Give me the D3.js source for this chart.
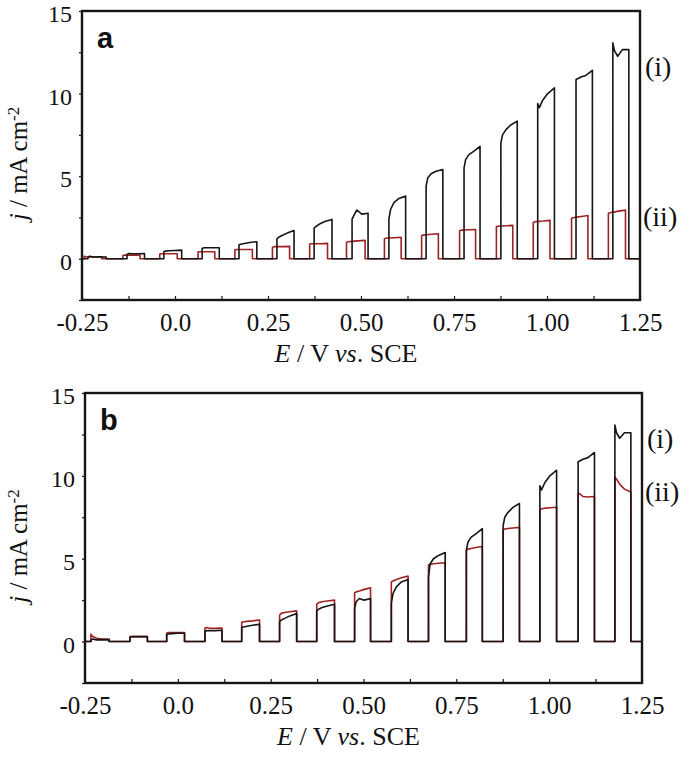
<!DOCTYPE html>
<html><head><meta charset="utf-8">
<script src="https://cdn.jsdelivr.net/npm/d3@7"></script>
<style>
html,body{margin:0;padding:0;background:#fff;}
svg{display:block;}
text{font-family:"Liberation Serif","Times New Roman",serif;fill:#111;}
</style></head>
<body>
<svg id="chart" width="685" height="757"></svg>
<script>
// ---------- data ----------
// potential (V vs SCE) where the light is switched on / off for each chopped pulse
const lightOnBlack  = [-0.234,-0.129,-0.030,0.073,0.172,0.274,0.374,0.476,0.575,0.675,0.777,0.876,0.975,1.078,1.177];
const lightOffBlack = [-0.185,-0.082,0.018,0.119,0.220,0.320,0.422,0.519,0.620,0.720,0.820,0.920,1.020,1.122,1.220];
const lightOnRedA   = [-0.244,-0.140,-0.041,0.062,0.161,0.262,0.362,0.461,0.563,0.663,0.765,0.864,0.963,1.066,1.165];
const lightOffRedA  = [-0.197,-0.094,0.006,0.107,0.208,0.308,0.410,0.511,0.608,0.708,0.808,0.908,1.008,1.110,1.211];
// sampling positions inside each light-on period (fraction of the on-time)
const onFrac = [0, 0.1, 0.3, 0.6, 1];
// (i) photocurrent j (mA cm-2) inside each pulse, panel a
const curveIA = [
  [0.10,0.15,0.10,0.12,0.10],[0.25,0.32,0.30,0.30,0.32],[0.42,0.46,0.48,0.50,0.52],
  [0.62,0.66,0.66,0.66,0.66],[0.85,0.88,0.92,0.98,1.03],[1.20,1.30,1.40,1.55,1.71],
  [1.85,1.95,2.10,2.25,2.38],[2.40,2.60,2.95,2.70,2.75],[2.40,2.98,3.40,3.65,3.79],
  [4.40,4.90,5.15,5.30,5.40],[5.50,6.00,6.30,6.50,6.81],[7.00,7.50,7.80,8.10,8.33],
  [9.40,9.15,9.60,10.00,10.34],[10.85,10.90,11.00,11.10,11.41],[13.07,12.60,12.26,12.66,12.66]
];
// (ii) panel a
const curveIIA = [
  [0.15,0.12,0.10,0.10,0.10],[0.20,0.22,0.22,0.22,0.22],[0.28,0.30,0.30,0.30,0.30],
  [0.40,0.42,0.42,0.42,0.42],[0.54,0.56,0.56,0.56,0.56],[0.70,0.73,0.73,0.73,0.75],
  [0.88,0.91,0.91,0.91,0.93],[1.00,1.03,1.05,1.08,1.11],[1.20,1.25,1.25,1.27,1.30],
  [1.40,1.43,1.45,1.48,1.51],[1.70,1.73,1.74,1.75,1.77],[1.95,1.97,1.98,2.00,2.02],
  [2.20,2.24,2.26,2.28,2.32],[2.45,2.48,2.52,2.56,2.62],[2.75,2.78,2.82,2.88,2.94]
];
// (i) panel b
const curveIB = [
  [0.10,0.15,0.10,0.12,0.10],[0.25,0.30,0.30,0.30,0.30],[0.42,0.46,0.48,0.50,0.50],
  [0.62,0.66,0.66,0.66,0.68],[0.85,0.88,0.92,0.98,1.05],[1.20,1.30,1.40,1.55,1.70],
  [1.85,1.95,2.05,2.15,2.25],[2.00,2.40,2.60,2.50,2.60],[2.33,2.90,3.30,3.60,3.75],
  [3.90,4.70,5.00,5.20,5.37],[5.50,6.00,6.30,6.50,6.81],[7.00,7.50,7.80,8.10,8.33],
  [9.40,9.15,9.60,10.00,10.34],[10.85,10.90,11.00,11.10,11.41],[13.07,12.60,12.27,12.60,12.60]
];
// (ii) panel b
const curveIIB = [
  [0.45,0.30,0.20,0.15,0.15],[0.30,0.30,0.30,0.30,0.30],[0.50,0.55,0.55,0.55,0.55],
  [0.80,0.85,0.80,0.80,0.82],[1.15,1.20,1.22,1.25,1.30],[1.60,1.70,1.75,1.80,1.85],
  [2.25,2.35,2.40,2.45,2.50],[2.95,3.00,3.05,3.15,3.24],[3.60,3.65,3.75,3.85,3.95],
  [4.62,4.66,4.70,4.73,4.76],[5.50,5.58,5.62,5.68,5.74],[6.75,6.79,6.82,6.85,6.89],
  [7.95,8.01,8.05,8.08,8.11],[8.95,8.92,8.75,8.72,8.75],[9.93,9.80,9.50,9.20,9.02]
];
const xTicks = [-0.25,-0.125,0,0.125,0.25,0.375,0.5,0.625,0.75,0.875,1.0,1.125,1.25];
const xTickLabels = ["-0.25","0.0","0.25","0.50","0.75","1.00","1.25"];
const yTicks = [-2.5,0,2.5,5,7.5,10,12.5,15];
const yTickLabels = ["0","5","10","15"];
const xDomain = [-0.25, 1.25];
const yDomain = [-2.5, 15];

// ---------- drawing ----------
const svg = d3.select("#chart");
const BLACK = "#151515", RED = "#9e2222";

function trace(on, off, vals){
  const pts = [[xDomain[0], 0]];
  on.forEach((e0, k) => {
    const e1 = off[k];
    pts.push([e0, 0]);
    onFrac.forEach((f, i) => pts.push([e0 + f * (e1 - e0), vals[k][i]]));
    pts.push([e1, 0]);
  });
  pts.push([xDomain[1], 0]);
  return pts;
}

function panel(cfg){
  const x = d3.scaleLinear().domain(xDomain).range([cfg.left, cfg.right]);
  const y = d3.scaleLinear().domain(yDomain).range([cfg.bottom, cfg.top]);
  const g = svg.append("g");
  const line = d3.line().x(d => x(d[0])).y(d => y(d[1]));

  // traces
  g.append("path").datum(trace(cfg.redOn, cfg.redOff, cfg.red))
    .attr("d", line).attr("fill","none").attr("stroke",RED).attr("stroke-width",1.6)
    .attr("stroke-linejoin","round");
  g.append("path").datum(trace(lightOnBlack, lightOffBlack, cfg.black))
    .attr("d", line).attr("fill","none").attr("stroke",BLACK).attr("stroke-width",1.6)
    .attr("stroke-linejoin","round");

  // x axis
  const labelFor = v => { const i = xTicks.indexOf(v); return i % 2 === 0 ? xTickLabels[i/2] : ""; };
  const xa = g.append("g").attr("transform",`translate(0,${cfg.bottom})`)
    .call(d3.axisBottom(x).tickValues(xTicks).tickSize(-4).tickSizeOuter(0).tickFormat(labelFor));
  xa.select(".domain").remove();
  xa.selectAll(".tick line").attr("stroke",BLACK).attr("stroke-width",1.2);
  xa.selectAll(".tick text").attr("y",31).attr("dy",0)
    .style("font-family",'"Liberation Serif",serif').style("font-size","25px").attr("fill","#222");

  // y axis
  const yLab = v => (v % 5 === 0 && v >= 0) ? yTickLabels[v/5] : "";
  const ya = g.append("g").attr("transform",`translate(${cfg.left},0)`)
    .call(d3.axisLeft(y).tickValues(yTicks).tickSize(3).tickSizeOuter(0).tickFormat(yLab));
  ya.select(".domain").remove();
  ya.selectAll(".tick line").attr("stroke",BLACK).attr("stroke-width",1.2);
  ya.selectAll(".tick text").attr("x",-10).attr("dy","0.45em")
    .style("font-family",'"Liberation Serif",serif').style("font-size","24px").attr("fill","#222");

  // frame
  g.append("rect").attr("x",cfg.left).attr("y",cfg.top)
    .attr("width",cfg.right-cfg.left).attr("height",cfg.bottom-cfg.top)
    .attr("fill","none").attr("stroke",BLACK).attr("stroke-width",2.4);

  // panel letter
  g.append("text").attr("x",cfg.left+15).attr("y",cfg.top+37)
    .style("font-family",'"Liberation Sans",Arial,sans-serif').style("font-weight","bold")
    .style("font-size","29px").text(cfg.letter);

  // series labels
  g.append("text").attr("x",cfg.right+5).attr("y",cfg.labI).style("font-size","28px").text("(i)");
  g.append("text").attr("x",cfg.right+3).attr("y",cfg.labII).style("font-size","28px").text("(ii)");

  // x title
  const xt = g.append("text").attr("x",(cfg.left+cfg.right)/2-15).attr("y",cfg.bottom+62)
    .attr("text-anchor","middle").style("font-size","26px");
  xt.append("tspan").style("font-style","italic").text("E");
  xt.append("tspan").text(" / V ");
  xt.append("tspan").style("font-style","italic").text("vs");
  xt.append("tspan").text(". SCE");

  // y title
  const cy = (cfg.top+cfg.bottom)/2 + 8;
  const yt = g.append("text").attr("transform",`translate(27,${cy}) rotate(-90)`)
    .attr("text-anchor","middle").style("font-size","25px");
  yt.append("tspan").style("font-style","italic").text("j");
  yt.append("tspan").text(" / mA cm");
  yt.append("tspan").attr("dy","-0.45em").style("font-size","17px").text("-2");
}

panel({left:82, right:640, top:11, bottom:300, letter:"a",
  black:curveIA, red:curveIIA, redOn:lightOnRedA, redOff:lightOffRedA, labI:76, labII:226});
panel({left:85, right:642, top:393, bottom:683, letter:"b",
  black:curveIB, red:curveIIB, redOn:lightOnBlack, redOff:lightOffBlack, labI:448, labII:501});
</script>
</body></html>
